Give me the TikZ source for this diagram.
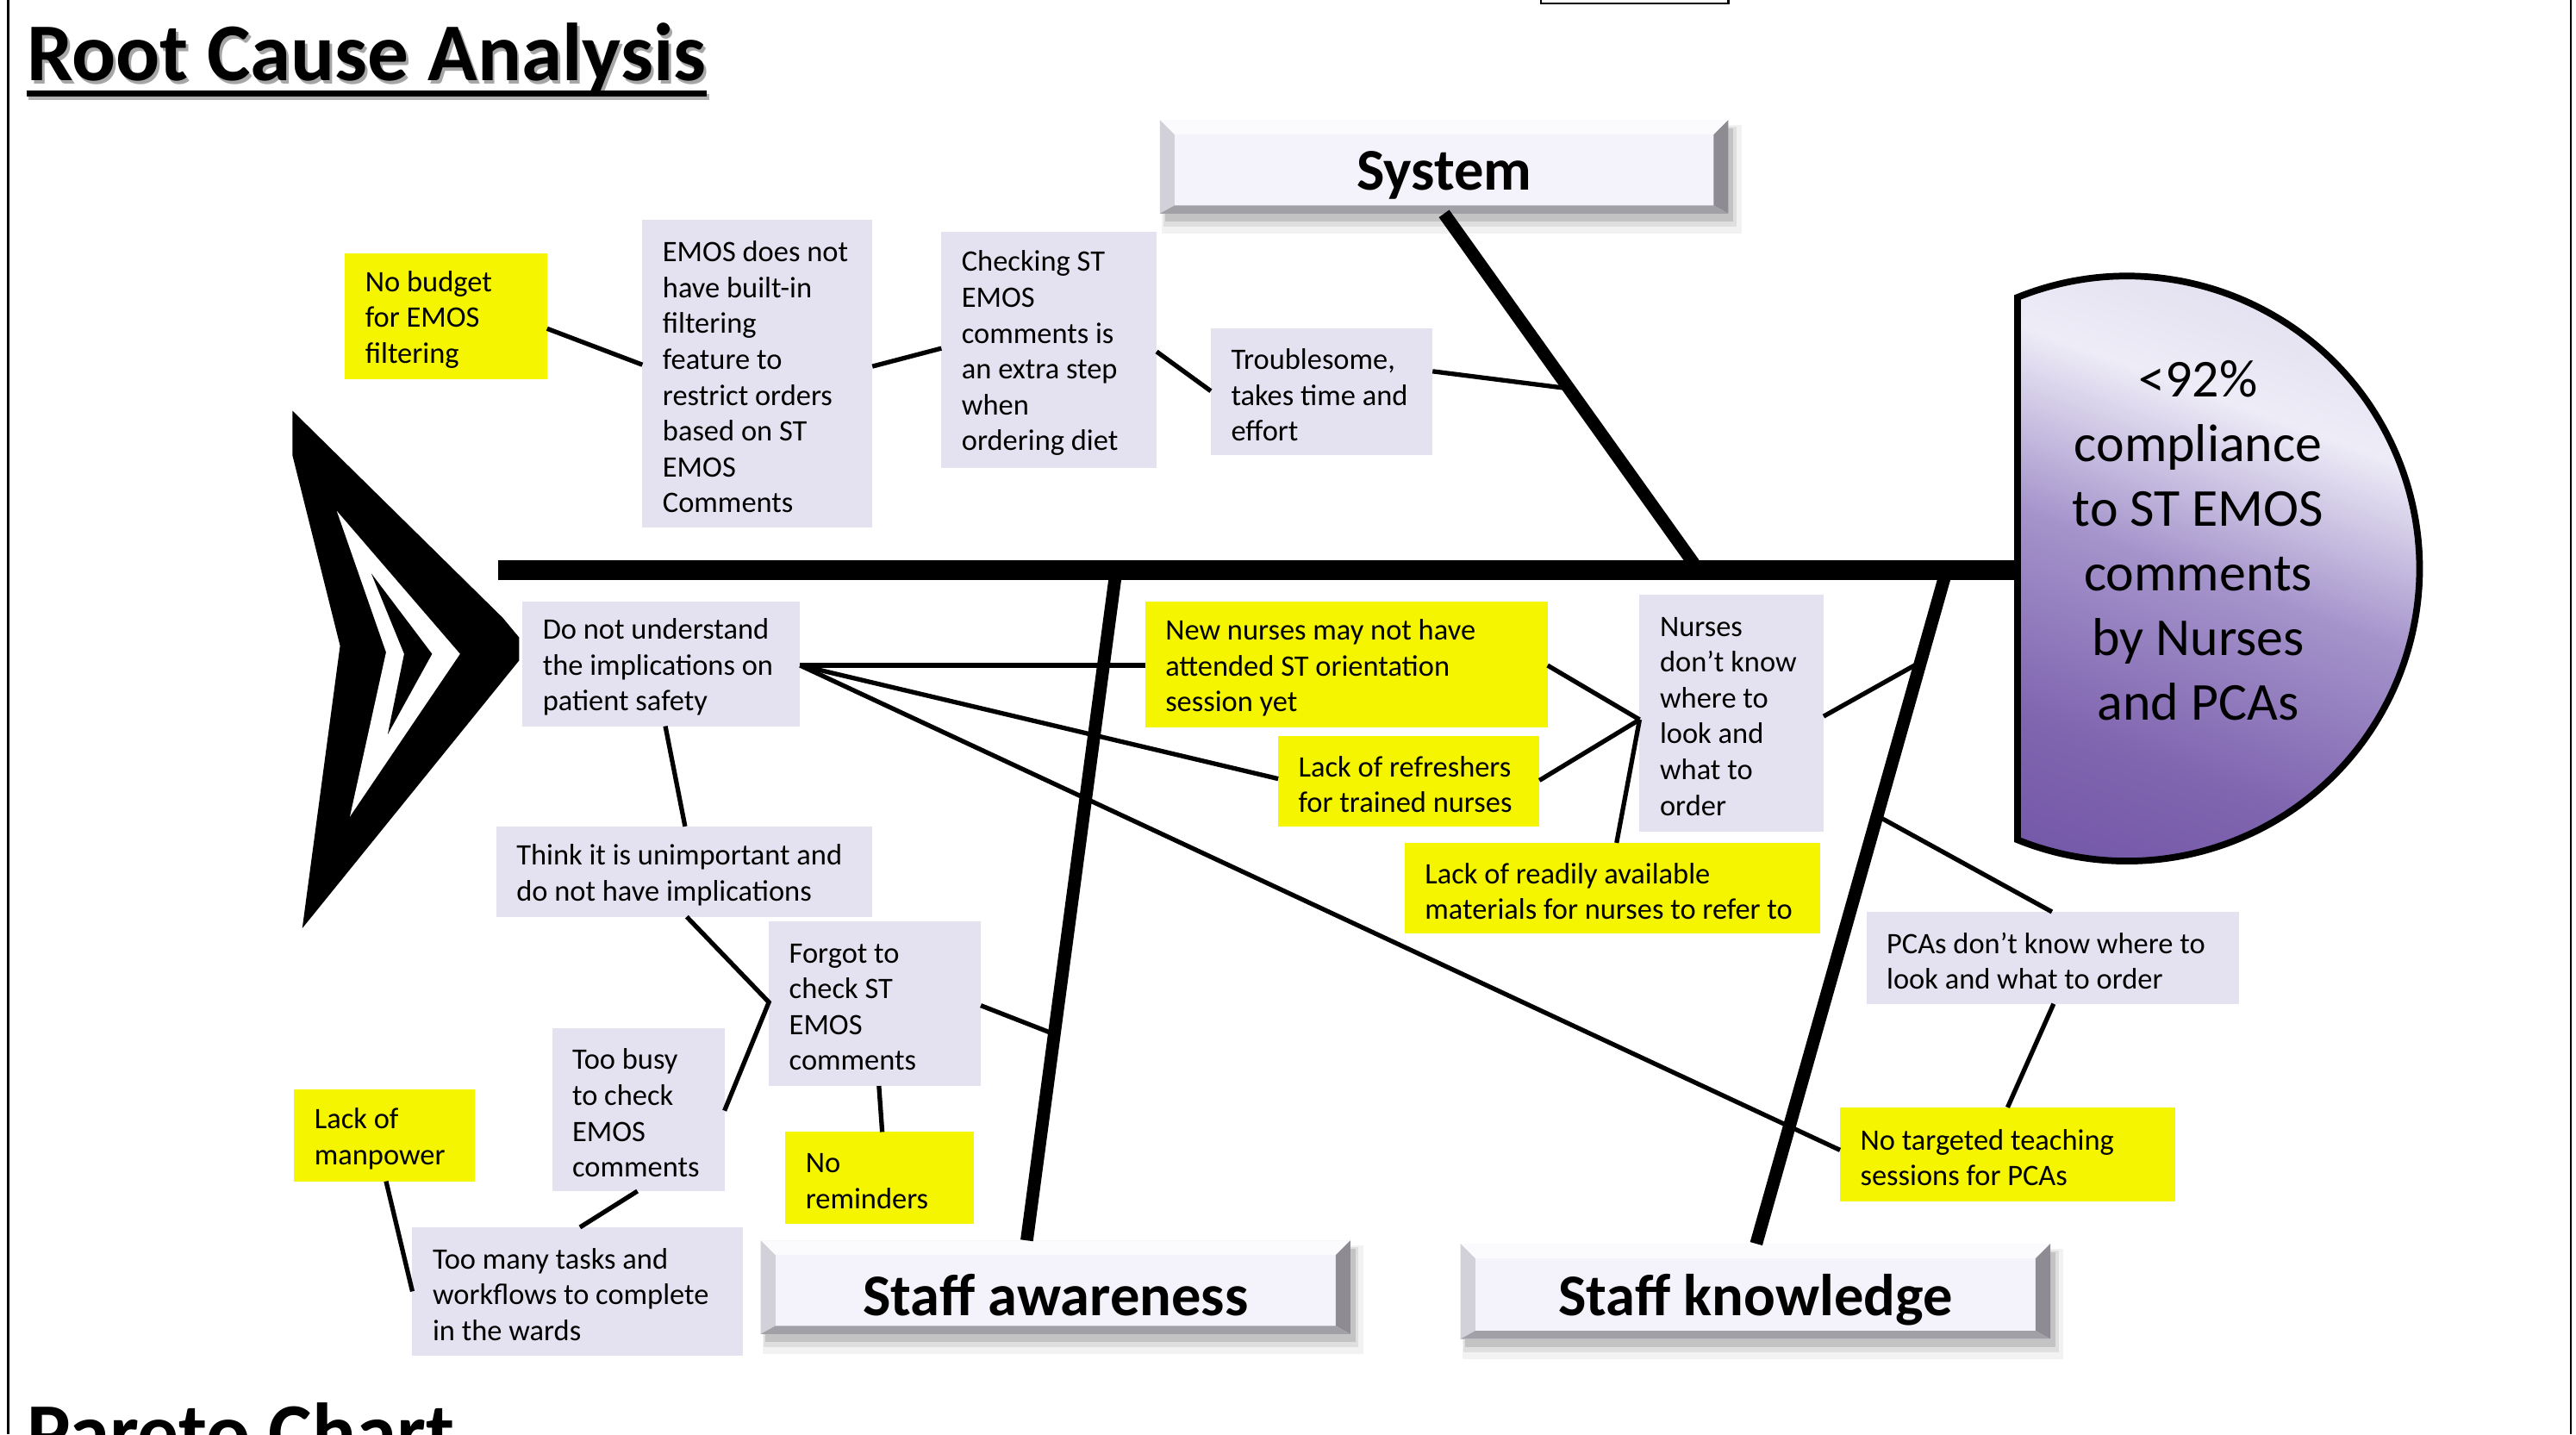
\documentclass[tikz,border=0pt]{standalone}
\usepackage{fontspec}
\setmainfont{Carlito}
\usetikzlibrary{calc,fit}
\definecolor{lav}{HTML}{E4E2F0}
\definecolor{yel}{HTML}{F5F500}
\definecolor{face}{HTML}{F4F2FB}
\definecolor{hlight}{HTML}{E5E2F1}
\definecolor{hband}{HTML}{EEECF7}
\definecolor{hmid}{HTML}{A493CB}
\definecolor{hmid2}{HTML}{7F64AF}
\definecolor{hdark}{HTML}{6244A0}
\pgfdeclareverticalshading{headsh}{100bp}{color(0bp)=(hdark); color(30bp)=(hmid2); color(47bp)=(hmid); color(62bp)=(hband); color(70bp)=(hlight); color(100bp)=(hlight)}
\newcommand\cbox[7]{%
  \node[#2, fit={(#3,#4) (#5,#6)}] (#1) {};
  \node[txt] (#1t) at ($(#1.west)+(12,2)$) {#7};
}
\newcommand\catbox[6]{%
  \fill[black, opacity=0.05] (#2+1,#3+3) rectangle (#4+8,#5+12);
  \fill[black, opacity=0.08] (#2+2,#3+4) rectangle (#4+5,#5+8);
  \fill[black, opacity=0.12] (#2+3,#3+5) rectangle (#4+3,#5+5);
  \node[fit={(#2,#3) (#4,#5)}, inner sep=0, outer sep=0, fill=face] (#1) {};
  \fill[bvtop] (#2,#3) -- (#4,#3) -- (#4-9,#3+9) -- (#2+9,#3+9) -- cycle;
  \fill[bvleft] (#2,#3) -- (#2+9,#3+9) -- (#2+9,#5-5) -- (#2,#5) -- cycle;
  \fill[bvright] (#4,#3) -- (#4,#5) -- (#4-9,#5-5) -- (#4-9,#3+9) -- cycle;
  \fill[bvbot] (#2,#5) -- (#4,#5) -- (#4-9,#5-5) -- (#2+9,#5-5) -- cycle;
  \node[catlabel] (#1t) at ($(#1.center)+(0,5)$) {#6};
}
\begin{document}
\begin{tikzpicture}[x=0.019063cm, y=-0.019063cm,
  cause/.style={inner sep=0, outer sep=0},
  lavbox/.style={cause, fill=lav},
  yelbox/.style={cause, fill=yel},
  txt/.style={inner sep=0, align=left, anchor=west, font=\fontsize{9.8}{11.83}\selectfont},
  catlabel/.style={inner sep=0, font=\bfseries\fontsize{19.5}{22}\selectfont},
  conn/.style={line width=1.5pt},
  bone/.style={line width=4.2pt},
  spine/.style={line width=6.6pt},
  bvtop/.style={fill=white!60!face},
  bvleft/.style={fill=black!14!face},
  bvright/.style={fill=black!42!face},
  bvbot/.style={fill=black!34!face}]
\useasboundingbox (0,0) rectangle (1568,873);
\clip (0,0) rectangle (1568,873);
\fill[white] (0,0) rectangle (1568,873);
% page frame
\draw[line width=0.6pt] (5,0) -- (5,873);
\draw[line width=0.6pt] (1565,0) -- (1565,873);
\node[draw, line width=0.7pt, inner sep=0, fit={(938,-20) (1052,2)}] (topbox) {};
% title
\node[anchor=base west, inner sep=0, text=black!35, font=\bfseries\fontsize{27.1}{30}\selectfont] (titlesh) at (17.5,51) {Root Cause Analysis};
\draw[line width=1.9pt, black!30] ($(titlesh.base west)+(0,8)$) -- ($(titlesh.base east)+(0,8)$);
\node[anchor=base west, inner sep=0, font=\bfseries\fontsize{27.1}{30}\selectfont] (title) at (16,49) {Root Cause Analysis};
\draw[line width=1.9pt] ($(title.base west)+(0,8)$) -- ($(title.base east)+(0,8)$);
\node[anchor=base west, inner sep=0, font=\bfseries\fontsize{27.1}{30}\selectfont] (pareto) at (16,889) {Pareto Chart};
% tail
\fill[black] (178,250) -- (306,376) -- (316,388) -- (316,402) -- (184,565) -- (207,393) -- (178,277) -- cycle;
\fill[white] (205,311) -- (280,398) -- (213,497) -- (235,397) -- cycle;
\fill[black] (226,349) -- (263,398) -- (236,447) -- (246,398) -- cycle;
% head
\shadedraw[shading=headsh, shading angle=-20, line width=2.2pt] (1228,181) arc[start angle=112, end angle=-112, radius=3.393cm] -- cycle;
\coordinate (headL) at (1228,347);
\node[align=center, inner sep=0, font=\fontsize{17.6}{21.3}\selectfont] (head) at (1338,329) {<92\%\\compliance\\to ST EMOS\\comments\\by Nurses\\and PCAs};
% category boxes
\catbox{sys}{706}{73}{1052}{130}{System}
\catbox{aw}{463}{755}{822}{812}{Staff awareness}
\catbox{kn}{889}{757}{1248}{815}{Staff knowledge}
% spine and bones
\coordinate (spL) at (303,347);
\draw[spine] (spL) -- (headL);
\coordinate (sysS) at (1031,343);
\coordinate (awS) at (679,350);
\coordinate (knS) at (1184,350);
\draw[bone] (sys.south) -- (sysS);
\draw[bone] (awS) -- (aw.north -| 625,0);
\draw[bone] (knS) -- (kn.north -| 1069,0);
\coordinate (sysj) at ($(sys.south)!0.5!(sysS)$);
\coordinate (awj) at ($(awS)!0.69!(aw.north -| 625,0)$);
\coordinate (kj1) at ($(knS)!0.13!(kn.north -| 1069,0)$);
\coordinate (kj2) at ($(knS)!0.36!(kn.north -| 1069,0)$);
% cause boxes
\cbox{nb}{yelbox}{210}{154}{333}{231}{No budget\\for EMOS\\filtering}
\cbox{emos}{lavbox}{391}{134}{531}{321}{EMOS does not\\have built-in\\filtering\\feature to\\restrict orders\\based on ST\\EMOS\\Comments}
\cbox{chk}{lavbox}{573}{141}{704}{285}{Checking ST\\EMOS\\comments is\\an extra step\\when\\ordering diet}
\cbox{trb}{lavbox}{737}{200}{872}{277}{Troublesome,\\takes time and\\effort}
\cbox{dn}{lavbox}{318}{366}{487}{442}{Do not understand\\the implications on\\patient safety}
\cbox{th}{lavbox}{302}{503}{531}{558}{Think it is unimportant and\\do not have implications}
\cbox{fg}{lavbox}{468}{561}{597}{661}{Forgot to\\check ST\\EMOS\\comments}
\cbox{tb}{lavbox}{336}{626}{441}{725}{Too busy\\to check\\EMOS\\comments}
\cbox{lm}{yelbox}{179}{663}{289}{719}{Lack of\\manpower}
\cbox{tm}{lavbox}{251}{747}{452}{825}{Too many tasks and\\workflows to complete\\in the wards}
\cbox{nr}{yelbox}{478}{689}{593}{745}{No\\reminders}
\cbox{nn}{yelbox}{697}{366}{942}{443}{New nurses may not have\\attended ST orientation\\session yet}
\cbox{lr}{yelbox}{778}{448}{937}{503}{Lack of refreshers\\for trained nurses}
\cbox{nk}{lavbox}{998}{362}{1110}{506}{Nurses\\don’t know\\where to\\look and\\what to\\order}
\cbox{la}{yelbox}{855}{513}{1108}{568}{Lack of readily available\\materials for nurses to refer to}
\cbox{pc}{lavbox}{1136}{555}{1363}{611}{PCAs don’t know where to\\look and what to order}
\cbox{nt}{yelbox}{1120}{674}{1324}{731}{No targeted teaching\\sessions for PCAs}
% connectors: system branch
\draw[conn] (nb.east |- 0,200) -- (emos.west |- 0,222);
\draw[conn] (emos.east |- 0,223) -- (chk.west |- 0,212);
\draw[conn] (chk.east |- 0,214) -- (trb.west |- 0,238);
\draw[conn] (trb.east |- 0,226) -- (sysj);
% connectors: staff awareness
\draw[conn] (dn.east |- 0,405) -- (nn.west |- 0,405);
\draw[conn] (dn.east |- 0,405) -- (lr.west |- 0,474);
\draw[conn] (dn.east |- 0,405) -- (nt.west |- 0,700);
\draw[conn] (dn.south -| 405,0) -- (th.north -| 417,0);
\draw[conn] (th.south -| 418,0) -- (fg.west |- 0,610) -- (tb.east |- 0,676);
\draw[conn] (fg.east |- 0,612) -- (awj);
\draw[conn] (fg.south -| 535,0) -- (nr.north -| 537,0);
\draw[conn] (tb.south -| 388,0) -- (tm.north -| 353,0);
\draw[conn] (lm.south -| 235,0) -- (tm.west |- 0,786);
% connectors: staff knowledge
\draw[conn] (nn.east |- 0,405) -- (nk.west |- 0,438);
\draw[conn] (lr.east |- 0,475) -- (nk.west |- 0,438);
\draw[conn] (la.north -| 984,0) -- (nk.west |- 0,438);
\draw[conn] (nk.east |- 0,436) -- (kj1);
\draw[conn] (pc.north -| 1249,0) -- (kj2);
\draw[conn] (nt.north -| 1222,0) -- (pc.south -| 1250,0);
\end{tikzpicture}
\end{document}
